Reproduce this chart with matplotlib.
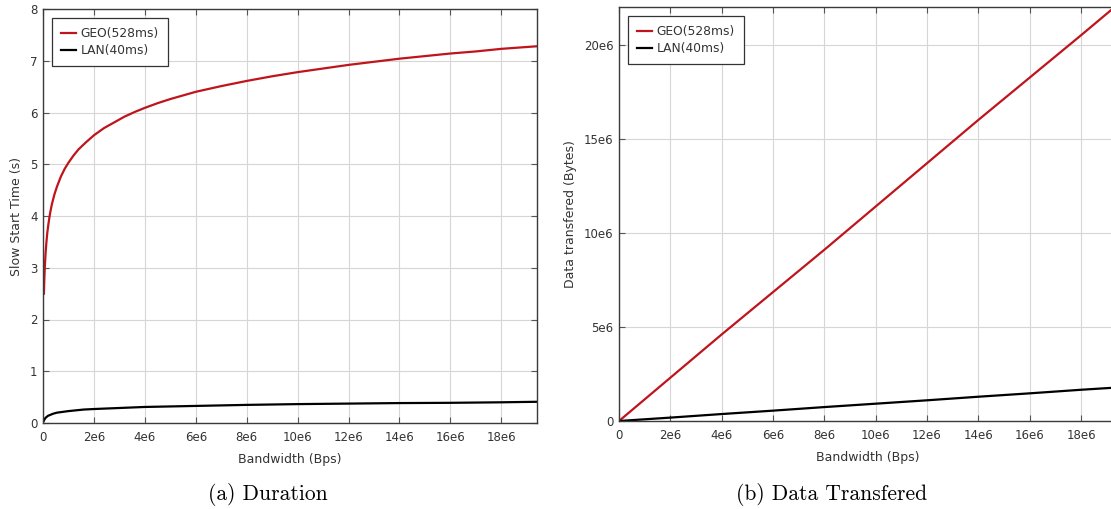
import matplotlib
matplotlib.use("Agg")
import matplotlib.pyplot as plt
import numpy as np

# bandwidth samples (Bps, in units of 1e6) and slow start duration (s)
bw_geo = [0.036, 0.05, 0.07, 0.1, 0.13, 0.17, 0.22, 0.28, 0.35, 0.45, 0.55,
          0.7, 0.85, 1.0, 1.2, 1.4, 1.7, 2.0, 2.4, 2.8, 3.2, 3.6, 4.0, 4.5,
          5.0, 5.5, 6.0, 7.0, 8.0, 9.0, 10.0, 11.0, 12.0, 13.0, 14.0, 15.0,
          16.0, 17.0, 18.0, 19.4]
time_geo = [2.50, 2.75, 3.00, 3.27, 3.47, 3.68, 3.87, 4.06, 4.23, 4.42, 4.57,
            4.76, 4.91, 5.03, 5.17, 5.29, 5.43, 5.56, 5.70, 5.81, 5.92, 6.01,
            6.09, 6.18, 6.26, 6.33, 6.40, 6.51, 6.61, 6.70, 6.78, 6.85, 6.92,
            6.98, 7.04, 7.09, 7.14, 7.18, 7.23, 7.28]

bw_lan = [0.0, 0.03, 0.06, 0.1, 0.15, 0.2, 0.3, 0.4, 0.55, 0.7, 0.85, 1.0,
          1.3, 1.6, 2.0, 2.5, 3.0, 4.0, 5.0, 6.0, 8.0, 10.0, 12.0, 14.0, 16.0,
          18.0, 19.4]
time_lan = [0.02, 0.04, 0.07, 0.10, 0.12, 0.14, 0.16, 0.18, 0.20, 0.21, 0.22,
            0.23, 0.245, 0.26, 0.27, 0.28, 0.29, 0.31, 0.32, 0.33, 0.35, 0.365,
            0.375, 0.385, 0.39, 0.40, 0.41]

# data transferred during slow start (Bytes, in units of 1e6)
bw_data = [0.0, 2.0, 4.0, 6.0, 8.0, 10.0, 12.0, 14.0, 16.0, 18.0, 19.4]
data_geo = [0.0, 2.3, 4.6, 6.85, 9.1, 11.4, 13.7, 16.0, 18.25, 20.5, 22.1]
data_lan = [0.0, 0.18, 0.37, 0.55, 0.74, 0.92, 1.10, 1.29, 1.47, 1.66, 1.78]

x_ticks = [0, 2, 4, 6, 8, 10, 12, 14, 16, 18]
x_labels = ["0"] + ["%de6" % v for v in x_ticks[1:]]
y_ticks_data = [0, 5, 10, 15, 20]
y_labels_data = ["0"] + ["%de6" % v for v in y_ticks_data[1:]]

RED = "#c0141c"
TXT = "#333333"
plt.rcParams["font.family"] = ["DejaVu Sans"]
plt.rcParams["font.size"] = 8

fig = plt.figure(figsize=(11.11, 5.09), dpi=100)
ax1 = fig.add_axes([43 / 1111, 86 / 509, 494 / 1111, 414 / 509])
ax2 = fig.add_axes([619 / 1111, 88 / 509, 498 / 1111, 414 / 509])


def style(ax):
    ax.grid(True, color="#d6d6d6", linewidth=0.8)
    ax.set_axisbelow(True)
    for s in ax.spines.values():
        s.set_color("#3a3a3a")
        s.set_linewidth(1.0)
    ax.tick_params(direction="in", top=True, right=True, length=4,
                   width=0.8, color="#555555", labelcolor=TXT, labelsize=8.5,
                   pad=4)
    ax.tick_params(axis="x", pad=5.5)
    leg = ax.legend(loc="upper left", fontsize=8.8, handlelength=1.2,
                    handletextpad=0.4, borderpad=0.75, labelspacing=0.3,
                    borderaxespad=0, fancybox=False, framealpha=1.0,
                    bbox_to_anchor=(0.018, 0.978))
    leg.get_frame().set_edgecolor("#333333")
    leg.get_frame().set_linewidth(0.9)
    for t in leg.get_texts():
        t.set_color(TXT)


# (a) slow start duration
ax1.plot(np.array(bw_geo) * 1e6, time_geo, color=RED, lw=1.6, label="GEO(528ms)")
ax1.plot(np.array(bw_lan) * 1e6, time_lan, color="black", lw=1.6, label="LAN(40ms)")
ax1.set_xlim(0, 19.4e6)
ax1.set_ylim(0, 8)
ax1.set_xticks(np.array(x_ticks) * 1e6)
ax1.set_xticklabels(x_labels)
ax1.set_yticks(range(0, 9))
ax1.set_xlabel("Bandwidth (Bps)", color=TXT, fontsize=9, labelpad=6.5)
ax1.set_ylabel("Slow Start Time (s)", color=TXT, fontsize=9, labelpad=5)
style(ax1)

# (b) data transferred
ax2.plot(np.array(bw_data) * 1e6, np.array(data_geo) * 1e6, color=RED, lw=1.6,
         label="GEO(528ms)")
ax2.plot(np.array(bw_data) * 1e6, np.array(data_lan) * 1e6, color="black",
         lw=1.6, label="LAN(40ms)")
ax2.set_xlim(0, 19.4e6)
ax2.set_ylim(0, 22e6)
ax2.set_xticks(np.array(x_ticks) * 1e6)
ax2.set_xticklabels(x_labels)
ax2.set_yticks(np.array(y_ticks_data) * 1e6)
ax2.set_yticklabels(y_labels_data)
ax2.set_xlabel("Bandwidth (Bps)", color=TXT, fontsize=9, labelpad=6.5)
ax2.set_ylabel("Data transfered (Bytes)", color=TXT, fontsize=9, labelpad=5)
style(ax2)

fig.text(268 / 1111, 1 - 495 / 509, "(a) Duration", family="cmr10",
         fontsize=15.5, ha="center", va="center")
fig.text(832 / 1111, 1 - 495 / 509, "(b) Data Transfered", family="cmr10",
         fontsize=15.5, ha="center", va="center")

fig.savefig("out.png", dpi=100)
